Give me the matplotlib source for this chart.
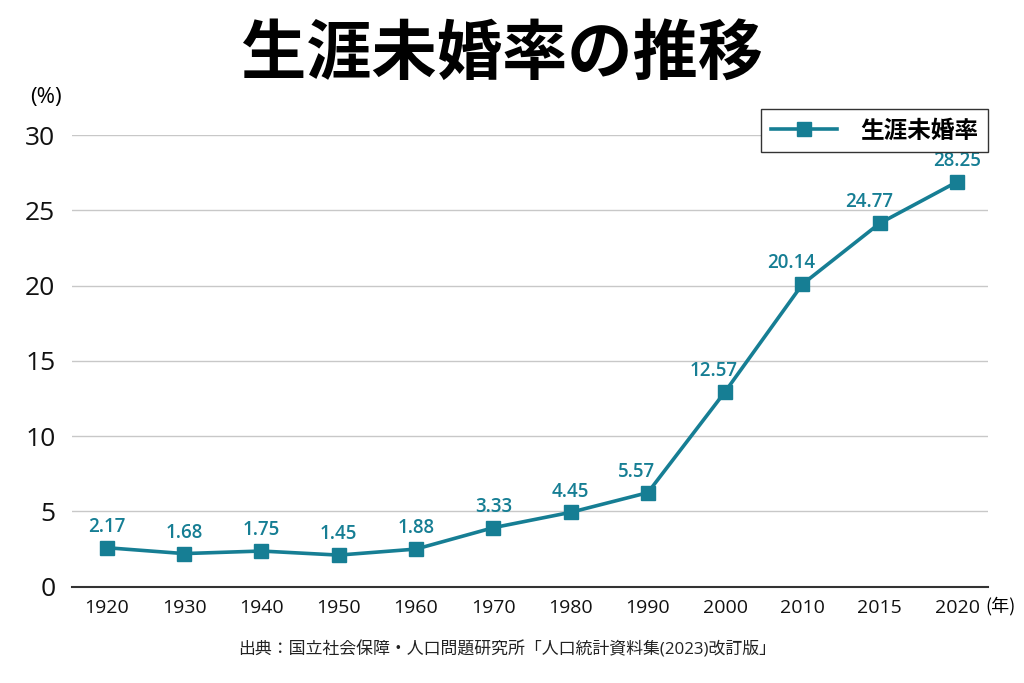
import matplotlib
matplotlib.use("Agg")
import matplotlib.pyplot as plt

# data
years = ["1920", "1930", "1940", "1950", "1960", "1970", "1980", "1990",
         "2000", "2010", "2015", "2020"]
rate_labels = ["2.17", "1.68", "1.75", "1.45", "1.88", "3.33", "4.45", "5.57",
               "12.57", "20.14", "24.77", "28.25"]
# heights of the markers as drawn in the original chart
rate_drawn = [2.59, 2.2, 2.37, 2.1, 2.5, 3.92, 4.94, 6.25, 12.96, 20.1, 24.15, 26.9]
y_ticks = [0, 5, 10, 15, 20, 25, 30]

TEAL = "#167e94"
NUM = ["Open Sans", "Noto Sans CJK JP", "DejaVu Sans"]
JP = ["Noto Sans CJK JP", "DejaVu Sans"]

plt.rcParams["font.family"] = JP

fig = plt.figure(figsize=(10.24, 6.83), dpi=100)
ax = fig.add_axes([0.0703, 0.141, 0.8945, 0.661])

x = list(range(len(years)))
ax.plot(x, rate_drawn, color=TEAL, lw=2.6, marker="s", ms=9.5,
        label="生涯未婚率", clip_on=False, zorder=3)

# labels sit a bit to the left where the line climbs steeply afterwards
for i, (xi, yi, lab) in enumerate(zip(x, rate_drawn, rate_labels)):
    dx = 0
    if i + 1 < len(rate_drawn) and rate_drawn[i + 1] - yi > 2:
        dx = -8
    ax.annotate(lab, (xi, yi), xytext=(dx, 15), textcoords="offset points",
                ha="center", va="center", color=TEAL, fontsize=13.5,
                fontweight="semibold", family=NUM)

ax.set_xlim(-0.45, 11.4)
ax.set_ylim(0, 30)
ax.set_yticks(y_ticks)
ax.set_yticklabels([str(t) for t in y_ticks], family=NUM, fontsize=19,
                   fontweight="medium")
ax.set_xticks(x)
ax.set_xticklabels(years, family=NUM, fontsize=14, fontweight="medium")
ax.tick_params(length=0, colors="#111111")
ax.tick_params(axis="y", pad=12)
ax.tick_params(axis="x", pad=9)

ax.grid(axis="y", color="#c8c8c8", lw=1)
ax.set_axisbelow(True)
for s in ["top", "right", "left"]:
    ax.spines[s].set_visible(False)
ax.spines["bottom"].set_color("#333333")
ax.spines["bottom"].set_linewidth(1.5)
ax.spines["bottom"].set_zorder(2)

leg = ax.legend(loc="upper right", bbox_to_anchor=(1.0, 1.058), fancybox=False,
                framealpha=1, edgecolor="#333333",
                prop={"family": JP, "size": 17, "weight": "bold"},
                handlelength=2.8, borderpad=0.4, handletextpad=1.0,
                borderaxespad=0)
leg.get_frame().set_linewidth(1)

fig.text(0.49, 0.92, "生涯未婚率の推移", ha="center", va="center",
         fontsize=47, fontweight="bold", family=JP)
fig.text(0.045, 0.857, "(%)", ha="center", va="center", fontsize=16, family=NUM)
fig.text(0.977, 0.113, "(年)", ha="center", va="center", fontsize=13, family=JP)
fig.text(0.495, 0.048, "出典：国立社会保障・人口問題研究所「人口統計資料集(2023)改訂版」",
         ha="center", va="center", fontsize=12.2, color="#222222",
         family=["Open Sans", "Noto Sans CJK JP"])

fig.savefig("out.png", dpi=100, facecolor="white")
